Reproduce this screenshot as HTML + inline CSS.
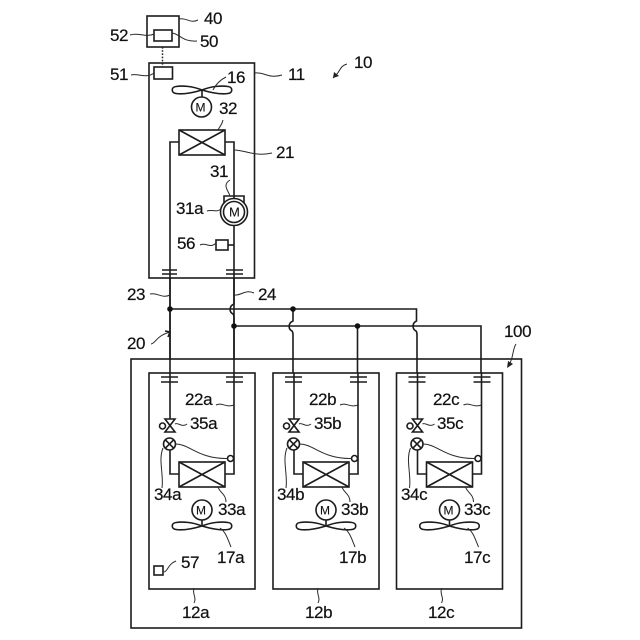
<!DOCTYPE html>
<html>
<head>
<meta charset="utf-8">
<style>
html,body{margin:0;padding:0;background:#fff}
svg{display:block}
text{font-family:"Liberation Sans",sans-serif;font-size:17px;letter-spacing:-.4px;fill:#111;stroke:#111;stroke-width:.2}
text.m{letter-spacing:0;stroke-width:.1}
.l{fill:none;stroke:#1c1c1c;stroke-width:1.6}
.t{fill:none;stroke:#2a2a2a;stroke-width:1}
.w{fill:#fff;stroke:#1c1c1c;stroke-width:1.6}
</style>
</head>
<body>
<svg width="640" height="640" viewBox="0 0 640 640" xmlns="http://www.w3.org/2000/svg">
<defs>
<g id="fan">
<path class="l" d="M0 0C-10 -4 -20 -4.500 -26 -3.500C-31 -3 -31 3 -26 3.500C-20 4.500 -10 3 0 0C10 -4 20 -4.500 26 -3.500C31 -3 31 3 26 3.500C20 4.500 10 3 0 0Z"/>
</g>
<g id="unit">
<rect class="l" x="149" y="373" width="106" height="216"/>
<path class="l" d="M170 373V419M234 373V474H225M170 450V474H179"/>
<path class="l" d="M161 377H178M161 382H178M226 377H243M226 382H243"/>
<path class="w" d="M165 419H175L165 432H175Z"/>
<circle class="w" cx="162.500" cy="426" r="3"/>
<circle class="w" cx="169.500" cy="444" r="6"/>
<path class="l" d="M165.300 439.800L173.700 448.200M173.700 439.800L165.300 448.200"/>
<circle class="w" cx="230.500" cy="458.500" r="3"/>
<path class="t" d="M175.500 444C190 444 198 459 227.500 458.500"/>
<rect class="w" x="179" y="462" width="46" height="25"/>
<path class="l" d="M179 462L225 487M225 462L179 487"/>
<circle class="l" cx="202" cy="510" r="10"/>
<line class="l" x1="202" y1="520" x2="202" y2="526"/>
<use href="#fan" x="202" y="526"/>
<path class="t" d="M216 405C222 402 226 408 234 405"/>
<path class="t" d="M175 424C178 422 182 428 187 424"/>
<path class="t" d="M163 448C158 460 164 475 162 488"/>
<path class="t" d="M218 487C220 493 226 494 226 502"/>
<path class="t" d="M220 528C226 532 228 540 231 547"/>
<path class="t" d="M194 588C192 595 197 597 194 603"/>
</g>
</defs>

<!-- remote -->
<rect class="l" x="147" y="16" width="32" height="31"/>
<rect class="l" x="154" y="30" width="18" height="11"/>
<line x1="162.500" y1="47" x2="162.500" y2="67" stroke="#222" stroke-width="1.500" stroke-dasharray="1.600 1.600"/>

<!-- outdoor unit -->
<rect class="l" x="149" y="63" width="105.500" height="215"/>
<rect class="l" x="154" y="67" width="18.500" height="12"/>
<use href="#fan" x="202" y="90"/>
<line class="l" x1="202" y1="90" x2="202" y2="97"/>
<circle class="l" cx="201.500" cy="107" r="10"/>
<path class="l" d="M170 360V142H179M225 142H234V199M234 225V360"/>
<rect class="w" x="179" y="130" width="46" height="25"/>
<path class="l" d="M179 130L225 155M225 130L179 155"/>
<path class="l" d="M224 205V196H244V205"/>
<circle class="w" cx="234" cy="212" r="13.500"/>
<circle class="l" cx="234" cy="212" r="10.500"/>
<rect class="w" x="216" y="240" width="12" height="10"/>
<line class="l" x1="228" y1="245" x2="234" y2="245"/>
<path class="l" d="M162 270H177M162 274H177M226 270H243M226 274H243"/>

<!-- piping -->
<path class="l" d="M170 278V373"/>
<path class="l" d="M234 278V304C229 306 229 312 233 314C234 315 234 316 234 318V373"/>
<path class="l" d="M170 309H416.500V321C412 323 412 329 416 331C417 332 417 333 417 335V373"/>
<path class="l" d="M234 326H481V373"/>
<path class="l" d="M293 309V321C288 323 288 329 292 331C293 332 293 333 293 335V373"/>
<line class="l" x1="357.500" y1="326" x2="357.500" y2="373"/>
<circle cx="170" cy="309" r="2.800" fill="#111"/>
<circle cx="293" cy="309" r="2.800" fill="#111"/>
<circle cx="234" cy="326" r="2.800" fill="#111"/>
<circle cx="357.500" cy="326" r="2.800" fill="#111"/>

<!-- outer box and indoor units -->
<rect class="l" x="131" y="359" width="390.500" height="269"/>
<use href="#unit"/>
<use href="#unit" x="124"/>
<use href="#unit" x="247.500"/>
<rect class="l" x="154" y="566" width="9" height="9"/>

<!-- leaders -->
<path class="t" d="M179 19C186 17 190 24 198 20"/>
<path class="t" d="M130 35C138 32 146 38 154 34"/>
<path class="t" d="M172 33C180 34 182 42 197 41"/>
<path class="t" d="M131 75C138 73 146 79 154 73"/>
<path class="t" d="M213 90C216 84 220 80 226 77"/>
<path class="t" d="M255 73C265 72 268 79 282 75"/>
<path class="t" d="M218 130C220 126 222 125 223 120"/>
<path class="t" d="M234 150C245 150 255 157 272 153"/>
<path class="t" d="M230 180C222 185 228 190 230 196"/>
<path class="t" d="M207 211C213 209 216 213 221 209"/>
<path class="t" d="M200 245C206 242 210 249 216 243"/>
<path class="t" d="M150 294C157 292 162 299 170 295"/>
<path class="t" d="M234 295C241 296 245 289 254 293"/>
<path class="t" d="M151 344C156 343 156 336 170 332"/>
<path class="l" d="M165 331L170 332L168 337" stroke-width="1"/>
<path class="t" d="M347 64C339 66 341 72 333 78"/>
<path d="M333 78L334 72L339 76Z" fill="#222"/>
<path class="t" d="M516 344C512 350 514 358 508 367"/>
<path d="M507 368L508 361L513 364Z" fill="#222"/>
<path class="t" d="M164 572C168 571 168 564 176 561"/>

<!-- labels -->
<text x="204" y="24">40</text>
<text x="110" y="41">52</text>
<text x="200" y="47">50</text>
<text x="110" y="80">51</text>
<text x="227" y="83">16</text>
<text x="288" y="80">11</text>
<text x="354" y="68">10</text>
<text x="219" y="114">32</text>
<text x="276" y="158">21</text>
<text x="210" y="177">31</text>
<text x="176" y="214">31a</text>
<text x="177" y="249">56</text>
<text x="127" y="300">23</text>
<text x="258" y="300">24</text>
<text x="127" y="349">20</text>
<text x="504" y="337">100</text>
<text x="181" y="568">57</text>
<text class="m" x="195.500" y="111.500" style="font-size:12px">M</text>
<text class="m" x="229" y="216.500" style="font-size:13px">M</text>
<text class="m" x="196" y="514.500" style="font-size:12px">M</text>
<text class="m" x="320" y="514.500" style="font-size:12px">M</text>
<text class="m" x="443.500" y="514.500" style="font-size:12px">M</text>

<text x="185" y="405">22a</text>
<text x="190" y="429">35a</text>
<text x="154" y="500">34a</text>
<text x="218" y="515">33a</text>
<text x="217" y="563">17a</text>
<text x="182" y="618">12a</text>

<text x="309" y="405">22b</text>
<text x="314" y="429">35b</text>
<text x="277" y="500">34b</text>
<text x="341" y="515">33b</text>
<text x="339" y="563">17b</text>
<text x="305" y="618">12b</text>

<text x="433" y="405">22c</text>
<text x="437" y="429">35c</text>
<text x="401" y="500">34c</text>
<text x="464" y="515">33c</text>
<text x="464" y="563">17c</text>
<text x="428" y="618">12c</text>
</svg>
</body>
</html>
